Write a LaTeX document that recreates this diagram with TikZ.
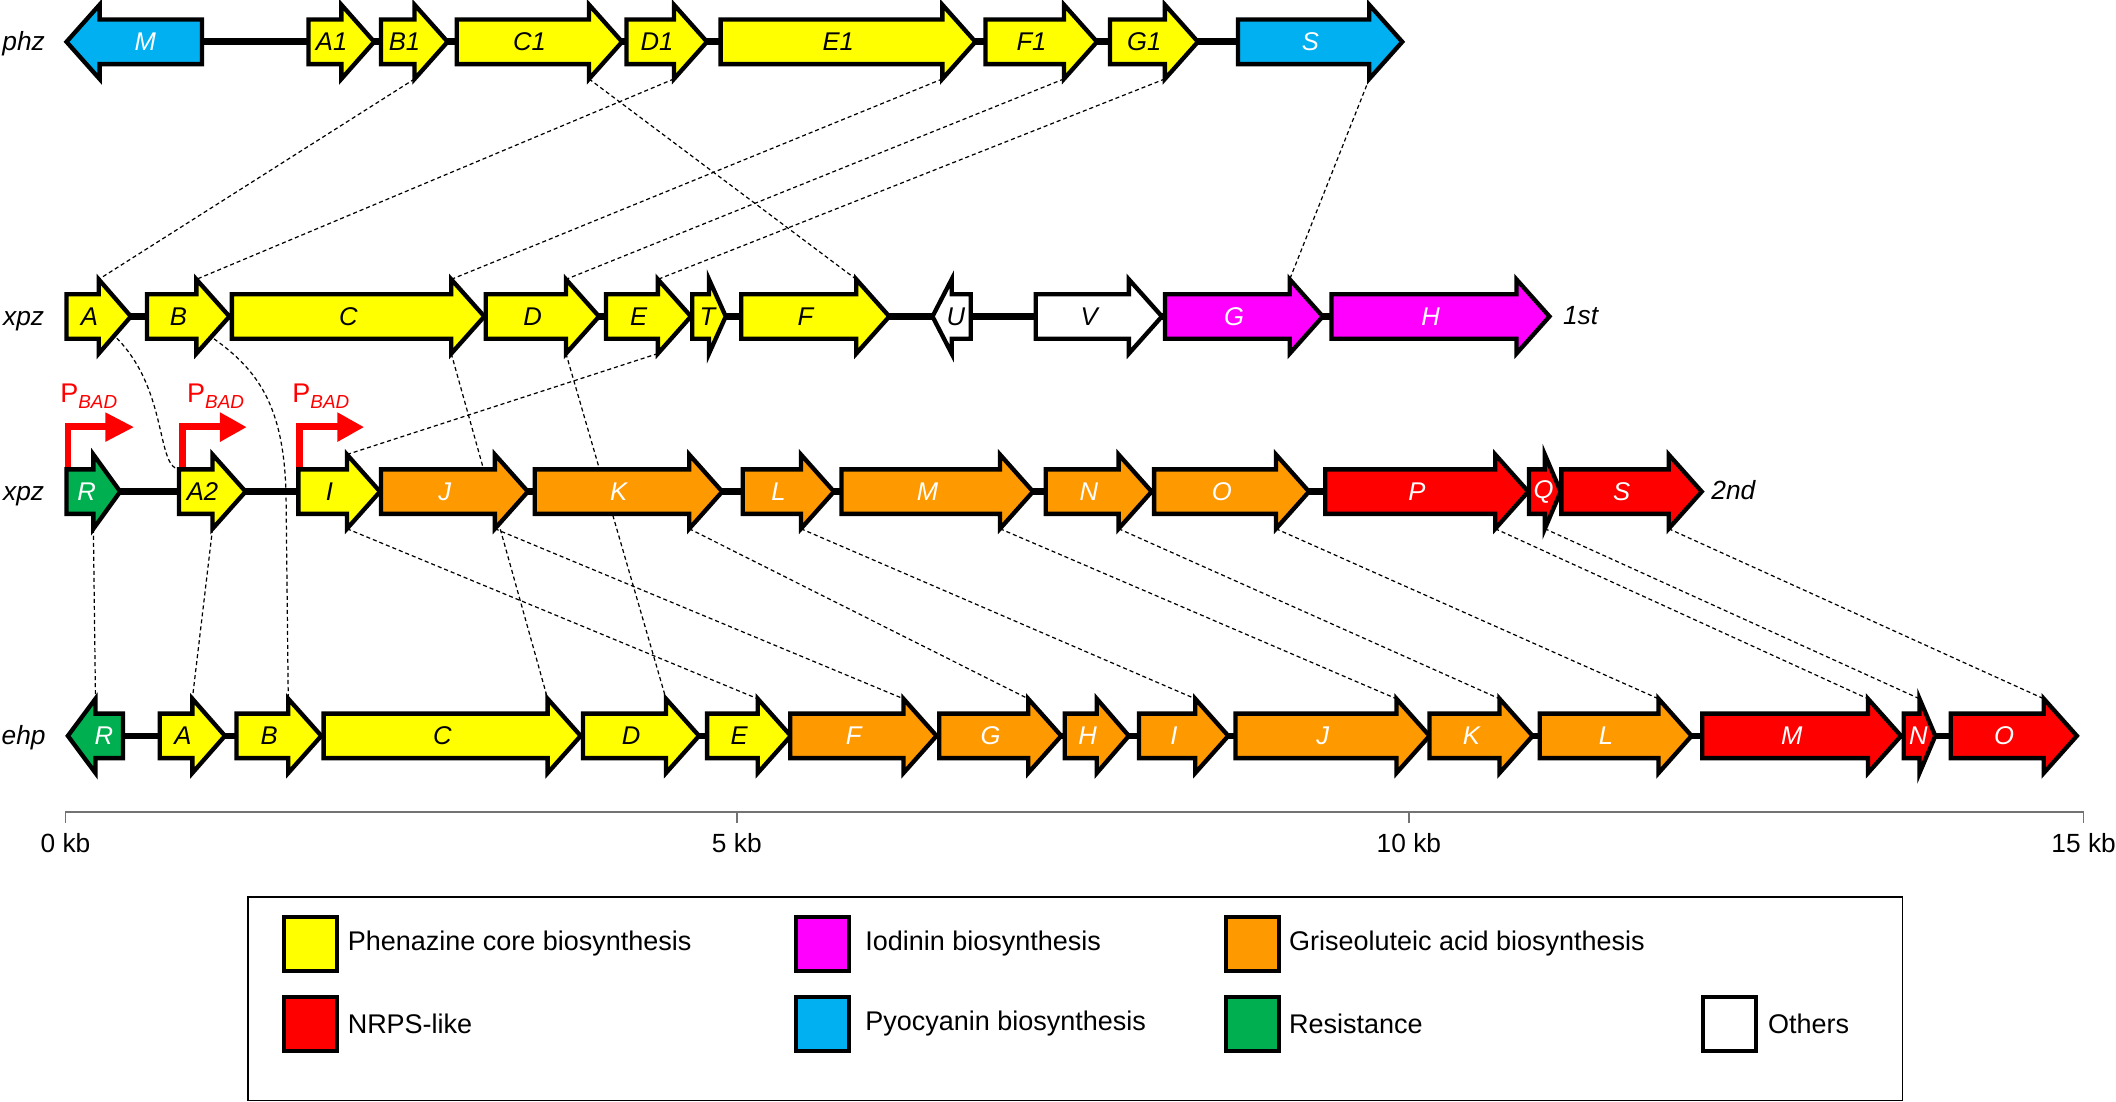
\documentclass[tikz,border=0pt]{standalone}
\usepackage{fontspec}
\setmainfont{Liberation Sans}
\usetikzlibrary{calc}
\pgfdeclarelayer{bg}
\pgfsetlayers{bg,main}
\definecolor{gyel}{HTML}{FFFF00}
\definecolor{gblu}{HTML}{00B0F0}
\definecolor{gmag}{HTML}{FF00FF}
\definecolor{gora}{HTML}{FF9900}
\definecolor{gred}{HTML}{FF0000}
\definecolor{ggrn}{HTML}{00B050}
\tikzset{
 geneout/.style={draw=black,line width=3.2pt,line join=miter},
 genelab/.style={inner sep=0pt,font=\fontsize{19}{20}\selectfont\itshape},
 rowlab/.style={inner sep=0pt,anchor=base,font=\fontsize{19.5}{22}\selectfont\itshape},
 backbone/.style={draw=black,line width=5pt},
 hom/.style={draw=black,line width=0.9pt,dash pattern=on 3pt off 2.2pt},
 prom/.style={draw=gred,line width=4.6pt,line join=miter},
 promlab/.style={inner sep=0pt,anchor=base west,text=gred},
 legsq/.style={draw=black,line width=3pt,minimum width=39pt,minimum height=40pt,inner sep=0pt},
 legtxt/.style={inner sep=0pt,anchor=west,font=\fontsize{20}{22}\selectfont},
 axisl/.style={draw=black!55,line width=1.5pt},
 axtxt/.style={inner sep=0pt,font=\fontsize{19.5}{22}\selectfont},
}
\def\bh{16.5}
\def\hh{27.5}
% right-pointing gene: name, left, tip, y, fill, label, text colour
\newcommand\geneR[7]{%
 \pgfmathsetmacro\gnb{#3-min(24.5,(#3-#2)/2)}%
 \draw[geneout,fill=#5] (#2,#4-\bh) -- (\gnb,#4-\bh) -- (\gnb,#4-\hh) -- (#3,#4) -- (\gnb,#4+\hh) -- (\gnb,#4+\bh) -- (#2,#4+\bh) -- cycle;
 \coordinate (#1t) at (\gnb,#4-\hh);
 \coordinate (#1b) at (\gnb,#4+\hh);
 \coordinate (#1tl) at (#2,#4-\bh);
 \node[genelab,text=#7] (#1) at ({(#2+\gnb)/2+5},#4) {#6};
}
% left-pointing gene: name, tip, right, y, fill, label, text colour
\newcommand\geneL[7]{%
 \pgfmathsetmacro\gnb{#2+min(24.5,(#3-#2)/2)}%
 \draw[geneout,fill=#5] (#3,#4-\bh) -- (\gnb,#4-\bh) -- (\gnb,#4-\hh) -- (#2,#4) -- (\gnb,#4+\hh) -- (\gnb,#4+\bh) -- (#3,#4+\bh) -- cycle;
 \coordinate (#1t) at (\gnb,#4-\hh);
 \coordinate (#1b) at (\gnb,#4+\hh);
 \node[genelab,text=#7] (#1) at ({(#3+\gnb)/2-4},#4) {#6};
}
\newcommand\pbad{{\fontsize{20}{21}\selectfont P}\raisebox{-4.5pt}{\fontsize{14}{15}\selectfont\itshape BAD}}
\begin{document}
\begin{tikzpicture}[x=1pt,y=-1pt]
\useasboundingbox (0,0) rectangle (1568,816);

% row labels
\node[rowlab] (lphz) at (17.5,37.5) {phz};
\node[rowlab] (lxpz1) at (17.5,241) {xpz};
\node[rowlab] (lxpz2) at (17.5,370.8) {xpz};
\node[rowlab] (lehp) at (17.5,551.8) {ehp};
\node[rowlab,anchor=base west] (l1st) at (1158,240.5) {1st};
\node[rowlab,anchor=base west] (l2nd) at (1268,370.5) {2nd};

% promoters (behind genes)
\coordinate (pr1) at (50.2,350); \coordinate (pr1e) at (80,316);
\coordinate (pr2) at (135.2,350); \coordinate (pr2e) at (165,316);
\coordinate (pr3) at (222,350); \coordinate (pr3e) at (252,316);
\draw[prom] (pr1) |- (pr1e);
\draw[prom] (pr2) |- (pr2e);
\draw[prom] (pr3) |- (pr3e);
\fill[gred] (78,305.5) -- (99,316.5) -- (78,327.5) -- cycle;
\fill[gred] (163,305.5) -- (182.5,316.5) -- (163,327.5) -- cycle;
\fill[gred] (250,305.5) -- (269.5,316.5) -- (250,327.5) -- cycle;
\node[promlab] (pl1) at (44.5,298) {\pbad};
\node[promlab] (pl2) at (138.5,298) {\pbad};
\node[promlab] (pl3) at (216.5,298) {\pbad};

% phz
\geneL{phzM}{49.3}{149.7}{31}{gblu}{M}{white}
\geneR{phzAa}{228.6}{277.3}{31}{gyel}{A1}{black}
\geneR{phzBa}{282.3}{331.7}{31}{gyel}{B1}{black}
\geneR{phzCa}{338.4}{461}{31}{gyel}{C1}{black}
\geneR{phzDa}{464.3}{523.9}{31}{gyel}{D1}{black}
\geneR{phzEa}{534}{722.8}{31}{gyel}{E1}{black}
\geneR{phzFa}{730.3}{812.9}{31}{gyel}{F1}{black}
\geneR{phzGa}{822.5}{887.7}{31}{gyel}{G1}{black}
\geneR{phzS}{917.4}{1039.1}{31}{gblu}{S}{white}

% xpz 1st
\geneR{xpzA}{49.3}{97}{234.5}{gyel}{A}{black}
\geneR{xpzB}{108.9}{170}{234.5}{gyel}{B}{black}
\geneR{xpzC}{171.8}{358.9}{234.5}{gyel}{C}{black}
\geneR{xpzD}{359.9}{443.9}{234.5}{gyel}{D}{black}
\geneR{xpzE}{449}{512}{234.5}{gyel}{E}{black}
\geneR{xpzT}{513}{537.8}{234.5}{gyel}{T}{black}
\geneR{xpzF}{549.3}{659}{234.5}{gyel}{F}{black}
\geneL{xpzU}{691}{719.4}{234.5}{white}{U}{black}
\geneR{xpzV}{767.5}{861}{234.5}{white}{V}{black}
\geneR{xpzG}{863.3}{980.2}{234.5}{gmag}{G}{white}
\geneR{xpzH}{986.6}{1148.2}{234.5}{gmag}{H}{white}

% xpz 2nd
\geneR{xqR}{49.3}{89.1}{364.3}{ggrn}{R}{white}
\geneR{xqA2}{132.7}{182}{364.3}{gyel}{A2}{black}
\geneR{xqI}{221.1}{281.6}{364.3}{gyel}{I}{black}
\geneR{xqJ}{282.3}{391.2}{364.3}{gora}{J}{white}
\geneR{xqK}{396.3}{535.2}{364.3}{gora}{K}{white}
\geneR{xqL}{550.4}{618}{364.3}{gora}{L}{white}
\geneR{xqM}{623.6}{765.5}{364.3}{gora}{M}{white}
\geneR{xqN}{774.9}{853.4}{364.3}{gora}{N}{white}
\geneR{xqO}{855.2}{970}{364.3}{gora}{O}{white}
\geneR{xqP}{982}{1132.5}{364.3}{gred}{P}{white}
\geneR{xqQ}{1133}{1156.5}{364.3}{gred}{Q}{white}
\geneR{xqS}{1157}{1261}{364.3}{gred}{S}{white}

% ehp
\geneL{ehpR}{50.3}{91.2}{545.3}{ggrn}{R}{white}
\geneR{ehpA}{118.4}{166.7}{545.3}{gyel}{A}{black}
\geneR{ehpB}{175.2}{238.1}{545.3}{gyel}{B}{black}
\geneR{ehpC}{239.8}{430.3}{545.3}{gyel}{C}{black}
\geneR{ehpD}{432}{518}{545.3}{gyel}{D}{black}
\geneR{ehpE}{524}{586}{545.3}{gyel}{E}{black}
\geneR{ehpF}{585.6}{694}{545.3}{gora}{F}{white}
\geneR{ehpG}{696}{786.4}{545.3}{gora}{G}{white}
\geneR{ehpH}{789}{836.5}{545.3}{gora}{H}{white}
\geneR{ehpI}{844}{910.2}{545.3}{gora}{I}{white}
\geneR{ehpJ}{915.5}{1059.3}{545.3}{gora}{J}{white}
\geneR{ehpK}{1059.3}{1135.7}{545.3}{gora}{K}{white}
\geneR{ehpL}{1141}{1253.5}{545.3}{gora}{L}{white}
\geneR{ehpM}{1261.4}{1408.7}{545.3}{gred}{M}{white}
\geneR{ehpN}{1410.7}{1434.1}{545.3}{gred}{N}{white}
\geneR{ehpO}{1445.5}{1539}{545.3}{gred}{O}{white}

\begin{pgfonlayer}{bg}
 \coordinate (bb1a) at (100,31); \coordinate (bb1b) at (1030,31);
 \coordinate (bb2a) at (60,234.5); \coordinate (bb2b) at (1140,234.5);
 \coordinate (bb3a) at (60,364.3); \coordinate (bb3b) at (1250,364.3);
 \coordinate (bb4a) at (80,545.3); \coordinate (bb4b) at (1530,545.3);
 \draw[backbone] (bb1a) -- (bb1b);
 \draw[backbone] (bb2a) -- (bb2b);
 \draw[backbone] (bb3a) -- (bb3b);
 \draw[backbone] (bb4a) -- (bb4b);
 % phz -> xpz 1st
 \draw[hom] (phzBab) -- (xpzAt);
 \draw[hom] (phzDab) -- (xpzBt);
 \draw[hom] (phzCab) -- (xpzFt);
 \draw[hom] (phzEab) -- (xpzCt);
 \draw[hom] (phzFab) -- (xpzDt);
 \draw[hom] (phzGab) -- (xpzEt);
 \draw[hom] (phzSb) -- (xpzGt);
 % xpz 1st -> xpz 2nd / ehp
 \coordinate (bcurve) at (212,370);
 \draw[hom] (xpzA.center) .. controls (128,272) and (113,345) .. (xqA2tl);
 \draw[hom] (xpzB.center) .. controls (185,265) and (211,290) .. (bcurve) -- (ehpBt);
 \draw[hom] (xpzCb) -- (ehpCt);
 \draw[hom] (xpzDb) -- (ehpDt);
 \draw[hom] (xpzEb) -- (xqIt);
 % xpz 2nd -> ehp
 \draw[hom] (xqRb) -- (ehpRt);
 \draw[hom] (xqA2b) -- (ehpAt);
 \draw[hom] (xqIb) -- (ehpEt);
 \draw[hom] (xqJb) -- (ehpFt);
 \draw[hom] (xqKb) -- (ehpGt);
 \draw[hom] (xqLb) -- (ehpIt);
 \draw[hom] (xqMb) -- (ehpJt);
 \draw[hom] (xqNb) -- (ehpKt);
 \draw[hom] (xqOb) -- (ehpLt);
 \draw[hom] (xqPb) -- (ehpMt);
 \draw[hom] (xqQb) -- (ehpNt);
 \draw[hom] (xqSb) -- (ehpOt);
\end{pgfonlayer}

% scale axis
\coordinate (ax0) at (48.5,601.5);
\coordinate (ax5) at (546,601.5);
\coordinate (ax10) at (1044,601.5);
\coordinate (ax15) at (1544,601.5);
\draw[axisl] (ax0) -- (ax15);
\foreach \p in {ax0,ax5,ax10,ax15} \draw[draw=black!55,line width=1.2pt] (\p) -- ++(0,8);
\node[axtxt] (t0) at (48.5,624.5) {0 kb};
\node[axtxt] (t5) at (546,624.5) {5 kb};
\node[axtxt] (t10) at (1044,624.5) {10 kb};
\node[axtxt] (t15) at (1544,624.5) {15 kb};

% legend
\node[draw=black,line width=1.2pt,minimum width=1226pt,minimum height=151pt,inner sep=0pt,anchor=north west] (legbox) at (183.3,664) {};
\node[legsq,fill=gyel] (sq1) at (230,699.5) {};
\node[legtxt] (tx1) at (257.5,699.5) {Phenazine core biosynthesis};
\node[legsq,fill=gmag] (sq2) at (609.5,699.5) {};
\node[legtxt] (tx2) at (641,699.5) {Iodinin biosynthesis};
\node[legsq,fill=gora] (sq3) at (928.3,699.5) {};
\node[legtxt] (tx3) at (955,699.5) {Griseoluteic acid biosynthesis};
\node[legsq,fill=gred] (sq4) at (230,758.8) {};
\node[legtxt] (tx4) at (257.5,758.8) {NRPS-like};
\node[legsq,fill=gblu] (sq5) at (609.5,758.8) {};
\node[legtxt] (tx5) at (641,758.8) {Pyocyanin biosynthesis};
\node[legsq,fill=ggrn] (sq6) at (928.3,758.8) {};
\node[legtxt] (tx6) at (955,758.8) {Resistance};
\node[legsq,fill=white] (sq7) at (1281.7,758.8) {};
\node[legtxt] (tx7) at (1310,758.8) {Others};
\end{tikzpicture}
\end{document}
